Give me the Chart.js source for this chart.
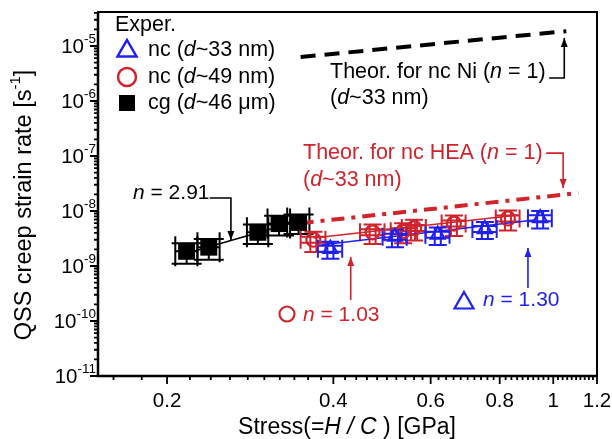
<!DOCTYPE html>
<html>
<head>
<meta charset="utf-8">
<script src="https://cdn.jsdelivr.net/npm/chart.js@4"></script>
<style>
  body { margin: 0; background: #fff; }
  canvas { display: block; }
</style>
</head>
<body>
<canvas id="creep-chart" width="612" height="439"></canvas>
<script>
// cg (d~46 um), black squares
const cgX = [0.217, 0.238, 0.292, 0.319, 0.346];
const cgY = [1.85e-9, 2.2e-9, 4.1e-9, 5.9e-9, 6.2e-9];
const cgXErr = [0.010, 0.011, 0.013, 0.015, 0.016];
const cgYErr = [0.75e-9, 0.9e-9, 1.6e-9, 2.3e-9, 2.4e-9];

// nc (d~33 nm), blue triangles
const nc33X = [0.395, 0.517, 0.618, 0.752, 0.947];
const nc33Y = [2.05e-9, 3.4e-9, 3.7e-9, 4.7e-9, 7.4e-9];
const nc33XErr = [0.020, 0.026, 0.031, 0.038, 0.047];
const nc33YErr = [0.7e-9, 1.2e-9, 1.3e-9, 1.6e-9, 2.6e-9];

// nc (d~49 nm), red circles
const nc49X = [0.368, 0.471, 0.535, 0.56, 0.661, 0.828];
const nc49Y = [3.0e-9, 4.1e-9, 4.3e-9, 4.9e-9, 5.9e-9, 7.3e-9];
const nc49XErr = [0.019, 0.024, 0.027, 0.028, 0.033, 0.041];
const nc49YErr = [1.2e-9, 1.6e-9, 1.7e-9, 2.0e-9, 2.4e-9, 2.9e-9];

// fitted lines (end points)
const fitCgX = [0.217, 0.346];
const fitCgY = [1.7e-9, 6.6e-9];
const fit33X = [0.379, 0.923];
const fit33Y = [2.41e-9, 6.86e-9];
const fit49X = [0.368, 0.863];
const fit49Y = [3.23e-9, 8.45e-9];

// theoretical lines
const thNiX = [0.349, 1.056];
const thNiY = [6.3e-6, 1.86e-5];
const thHeaX = [0.349, 1.11];
const thHeaY = [6.0e-9, 2.12e-8];

// axes
const xTickVals = [0.2, 0.4, 0.6, 0.8, 1, 1.2];
const xTickLabels = ['0.2', '0.4', '0.6', '0.8', '1', '1.2'];
const yTickExps = [-11, -10, -9, -8, -7, -6, -5];

const BLUE = '#1f1ff0';
const RED = '#d0232b';
const FONT = '"Liberation Sans", Arial, sans-serif';

function pts(xs, ys) {
  return xs.map((x, i) => ({ x: x, y: ys[i] }));
}

function fontOf(size, italic) {
  return (italic ? 'italic ' : '') + size + 'px ' + FONT;
}

// parts: [{t, i, sup}]
function rich(ctx, parts, x, y, color, size, align) {
  let w = 0;
  parts.forEach(p => {
    ctx.font = fontOf(p.sup ? Math.round(size * 0.65) : size, p.i);
    w += ctx.measureText(p.t).width;
  });
  let cx = align === 'center' ? x - w / 2 : x;
  ctx.fillStyle = color;
  ctx.textBaseline = 'middle';
  ctx.textAlign = 'left';
  parts.forEach(p => {
    ctx.font = fontOf(p.sup ? Math.round(size * 0.65) : size, p.i);
    ctx.fillText(p.t, cx, p.sup ? y - size * 0.4 : y);
    cx += ctx.measureText(p.t).width;
  });
}

function triangle(ctx, x, y, r, color, lw) {
  ctx.beginPath();
  ctx.moveTo(x, y - r);
  ctx.lineTo(x + r * 0.95, y + r * 0.65);
  ctx.lineTo(x - r * 0.95, y + r * 0.65);
  ctx.closePath();
  ctx.strokeStyle = color;
  ctx.lineWidth = lw;
  ctx.stroke();
}

function circle(ctx, x, y, r, color, lw) {
  ctx.beginPath();
  ctx.arc(x, y, r, 0, Math.PI * 2);
  ctx.strokeStyle = color;
  ctx.lineWidth = lw;
  ctx.stroke();
}

const errSeries = [
  { xs: cgX, ys: cgY, xe: cgXErr, ye: cgYErr, color: '#000', cap: 15, dbl: 0 },
  { xs: nc49X, ys: nc49Y, xe: nc49XErr, ye: nc49YErr, color: RED, cap: 9, dbl: 3 },
  { xs: nc33X, ys: nc33Y, xe: nc33XErr, ye: nc33YErr, color: BLUE, cap: 9, dbl: 3 }
];

const errorBars = {
  id: 'errorBars',
  beforeDatasetsDraw(chart) {
    const ctx = chart.ctx;
    const sx = chart.scales.x, sy = chart.scales.y;
    ctx.save();
    errSeries.forEach(s => {
      ctx.strokeStyle = s.color;
      ctx.lineWidth = 2;
      s.xs.forEach((xv, i) => {
        const px = sx.getPixelForValue(xv);
        const py = sy.getPixelForValue(s.ys[i]);
        const xl = sx.getPixelForValue(xv - s.xe[i]);
        const xr = sx.getPixelForValue(xv + s.xe[i]);
        const yt = sy.getPixelForValue(s.ys[i] + s.ye[i]);
        const yb = sy.getPixelForValue(s.ys[i] - s.ye[i]);
        const offs = s.dbl ? [-s.dbl, s.dbl] : [0];
        ctx.beginPath();
        offs.forEach(o => {
          ctx.moveTo(xl, py + o); ctx.lineTo(xr, py + o);
          ctx.moveTo(px + o, yt); ctx.lineTo(px + o, yb);
        });
        // caps
        ctx.moveTo(xl, py - s.cap); ctx.lineTo(xl, py + s.cap);
        ctx.moveTo(xr, py - s.cap); ctx.lineTo(xr, py + s.cap);
        ctx.moveTo(px - s.cap, yt); ctx.lineTo(px + s.cap, yt);
        ctx.moveTo(px - s.cap, yb); ctx.lineTo(px + s.cap, yb);
        ctx.stroke();
      });
    });
    ctx.restore();
  }
};

// annotation arrows, in data coordinates
const arrows = [
  { color: '#000', path: [[0.983, 2.62e-6], [1.047, 2.62e-6], [1.047, 1.40e-5]] },
  { color: RED, path: [[0.971, 1.13e-7], [1.042, 1.13e-7], [1.042, 2.62e-8]] },
  { color: '#000', path: [[0.239, 1.72e-8], [0.261, 1.72e-8], [0.261, 2.97e-9]] },
  { color: RED, path: [[0.430, 2.41e-10], [0.430, 1.46e-9]] },
  { color: BLUE, path: [[0.900, 3.98e-10], [0.900, 2.12e-9]] }
];

const frame = {
  id: 'frame',
  afterDraw(chart) {
    const ctx = chart.ctx;
    const a = chart.chartArea;
    const sx = chart.scales.x, sy = chart.scales.y;
    ctx.save();

    // arrows
    arrows.forEach(ar => {
      const p = ar.path.map(q => [sx.getPixelForValue(q[0]), sy.getPixelForValue(q[1])]);
      ctx.strokeStyle = ar.color;
      ctx.fillStyle = ar.color;
      ctx.lineWidth = 1.6;
      ctx.beginPath();
      ctx.moveTo(p[0][0], p[0][1]);
      for (let i = 1; i < p.length; i++) ctx.lineTo(p[i][0], p[i][1]);
      ctx.stroke();
      const e = p[p.length - 1], b = p[p.length - 2];
      const ang = Math.atan2(e[1] - b[1], e[0] - b[0]);
      ctx.beginPath();
      ctx.moveTo(e[0], e[1]);
      ctx.lineTo(e[0] - 9 * Math.cos(ang) + 3.5 * Math.sin(ang), e[1] - 9 * Math.sin(ang) - 3.5 * Math.cos(ang));
      ctx.lineTo(e[0] - 9 * Math.cos(ang) - 3.5 * Math.sin(ang), e[1] - 9 * Math.sin(ang) + 3.5 * Math.cos(ang));
      ctx.closePath();
      ctx.fill();
    });

    // box
    ctx.strokeStyle = '#000';
    ctx.lineWidth = 2;
    ctx.strokeRect(a.left, a.top, a.right - a.left, a.bottom - a.top);
    ctx.lineWidth = 2.5;
    ctx.beginPath();
    ctx.moveTo(a.left, a.top); ctx.lineTo(a.left, a.bottom); ctx.lineTo(a.right, a.bottom);
    ctx.stroke();

    // x ticks
    ctx.lineWidth = 1.8;
    ctx.beginPath();
    for (let i = 8; i <= 60; i++) {
      const px = sx.getPixelForValue(i / 50);
      const len = i % 10 === 0 ? 8 : 4;
      ctx.moveTo(px, a.bottom); ctx.lineTo(px, a.bottom + len);
    }
    // y ticks
    yTickExps.forEach(e => {
      for (let m = 1; m <= 9; m++) {
        const v = m * Math.pow(10, e);
        if (v > sy.max) break;
        const py = sy.getPixelForValue(v);
        const len = m === 1 ? 8 : 4;
        ctx.moveTo(a.left, py); ctx.lineTo(a.left - len, py);
      }
    });
    ctx.stroke();

    // x tick labels
    ctx.fillStyle = '#000';
    ctx.font = fontOf(20.5, false);
    ctx.textAlign = 'center';
    ctx.textBaseline = 'alphabetic';
    xTickVals.forEach((v, i) => {
      ctx.fillText(xTickLabels[i], sx.getPixelForValue(v), 407);
    });

    // y tick labels
    yTickExps.forEach(e => {
      const py = sy.getPixelForValue(Math.pow(10, e));
      ctx.textAlign = 'right';
      ctx.textBaseline = 'alphabetic';
      ctx.font = fontOf(13.5, false);
      const sup = String(e);
      const sw = ctx.measureText(sup).width;
      ctx.fillText(sup, 96, py - 3);
      ctx.font = fontOf(20.5, false);
      ctx.fillText('10', 96 - sw, py + 7);
    });

    // axis titles
    rich(ctx, [{ t: 'Stress(=' }, { t: 'H / C', i: true }, { t: ' ) [GPa]' }], 347, 428, '#000', 23, 'center');
    ctx.save();
    ctx.translate(25, 205);
    ctx.rotate(-Math.PI / 2);
    rich(ctx, [{ t: 'QSS creep strain rate [s' }, { t: '-1', sup: true }, { t: ']' }], 0, 0, '#000', 23.5, 'center');
    ctx.restore();

    // legend
    rich(ctx, [{ t: 'Exper.' }], 115, 25, '#000', 21.5);
    triangle(ctx, 127, 50, 10, BLUE, 2.5);
    rich(ctx, [{ t: 'nc (' }, { t: 'd', i: true }, { t: '~33 nm)' }], 148, 50, '#000', 21.5);
    circle(ctx, 127, 77, 9, RED, 2.5);
    rich(ctx, [{ t: 'nc (' }, { t: 'd', i: true }, { t: '~49 nm)' }], 148, 77, '#000', 21.5);
    ctx.fillStyle = '#000';
    ctx.fillRect(119, 95, 16, 16);
    rich(ctx, [{ t: 'cg (' }, { t: 'd', i: true }, { t: '~46 \u03bcm)' }], 148, 103, '#000', 21.5);

    // annotations
    rich(ctx, [{ t: 'Theor. for nc Ni (' }, { t: 'n', i: true }, { t: ' = 1)' }], 330, 72, '#000', 21.5);
    rich(ctx, [{ t: '(' }, { t: 'd', i: true }, { t: '~33 nm)' }], 330, 98, '#000', 21.5);
    rich(ctx, [{ t: 'Theor. for nc HEA (' }, { t: 'n', i: true }, { t: ' = 1)' }], 303, 153, RED, 21.5);
    rich(ctx, [{ t: '(' }, { t: 'd', i: true }, { t: '~33 nm)' }], 303, 180, RED, 21.5);
    rich(ctx, [{ t: 'n', i: true }, { t: ' = 2.91' }], 133, 193, '#000', 21);
    circle(ctx, 287, 314, 7.5, RED, 2.2);
    rich(ctx, [{ t: 'n', i: true }, { t: ' = 1.03' }], 303, 315, RED, 21);
    triangle(ctx, 464, 302, 10, BLUE, 2.2);
    rich(ctx, [{ t: 'n', i: true }, { t: ' = 1.30' }], 483, 300, BLUE, 21);

    ctx.restore();
  }
};

new Chart(document.getElementById('creep-chart'), {
  type: 'scatter',
  data: {
    datasets: [
      {
        label: 'cg', data: pts(cgX, cgY), pointStyle: 'rect', pointRadius: 12,
        backgroundColor: '#000', borderColor: '#000', borderWidth: 0, order: 1
      },
      {
        label: 'nc 33', data: pts(nc33X, nc33Y), pointStyle: 'triangle', pointRadius: 8,
        backgroundColor: 'rgba(0,0,0,0)', borderColor: BLUE, borderWidth: 2.2, order: 2
      },
      {
        label: 'nc 49', data: pts(nc49X, nc49Y), pointStyle: 'circle', pointRadius: 7,
        backgroundColor: 'rgba(0,0,0,0)', borderColor: RED, borderWidth: 2.2, order: 3
      },
      {
        label: 'fit cg', data: pts(fitCgX, fitCgY), showLine: true, pointRadius: 0,
        borderColor: '#000', borderWidth: 1.6, order: 4
      },
      {
        label: 'fit 33', data: pts(fit33X, fit33Y), showLine: true, pointRadius: 0,
        borderColor: BLUE, borderWidth: 1.6, order: 4
      },
      {
        label: 'fit 49', data: pts(fit49X, fit49Y), showLine: true, pointRadius: 0,
        borderColor: RED, borderWidth: 1.6, order: 4
      },
      {
        label: 'Theor. nc Ni', data: pts(thNiX, thNiY), showLine: true, pointRadius: 0,
        borderColor: '#000', borderWidth: 4, borderDash: [15, 9], order: 5
      },
      {
        label: 'Theor. nc HEA', data: pts(thHeaX, thHeaY), showLine: true, pointRadius: 0,
        borderColor: RED, borderWidth: 4, borderDash: [13, 7, 4, 7], order: 5
      }
    ]
  },
  options: {
    responsive: false,
    animation: false,
    layout: { padding: { left: 98, top: 12, right: 15, bottom: 63 } },
    plugins: { legend: { display: false }, tooltip: { enabled: false } },
    scales: {
      x: { type: 'logarithmic', min: 0.15, max: 1.2, display: false },
      y: { type: 'logarithmic', min: 1e-11, max: 4.15e-5, display: false }
    }
  },
  plugins: [errorBars, frame]
});
</script>
</body>
</html>
